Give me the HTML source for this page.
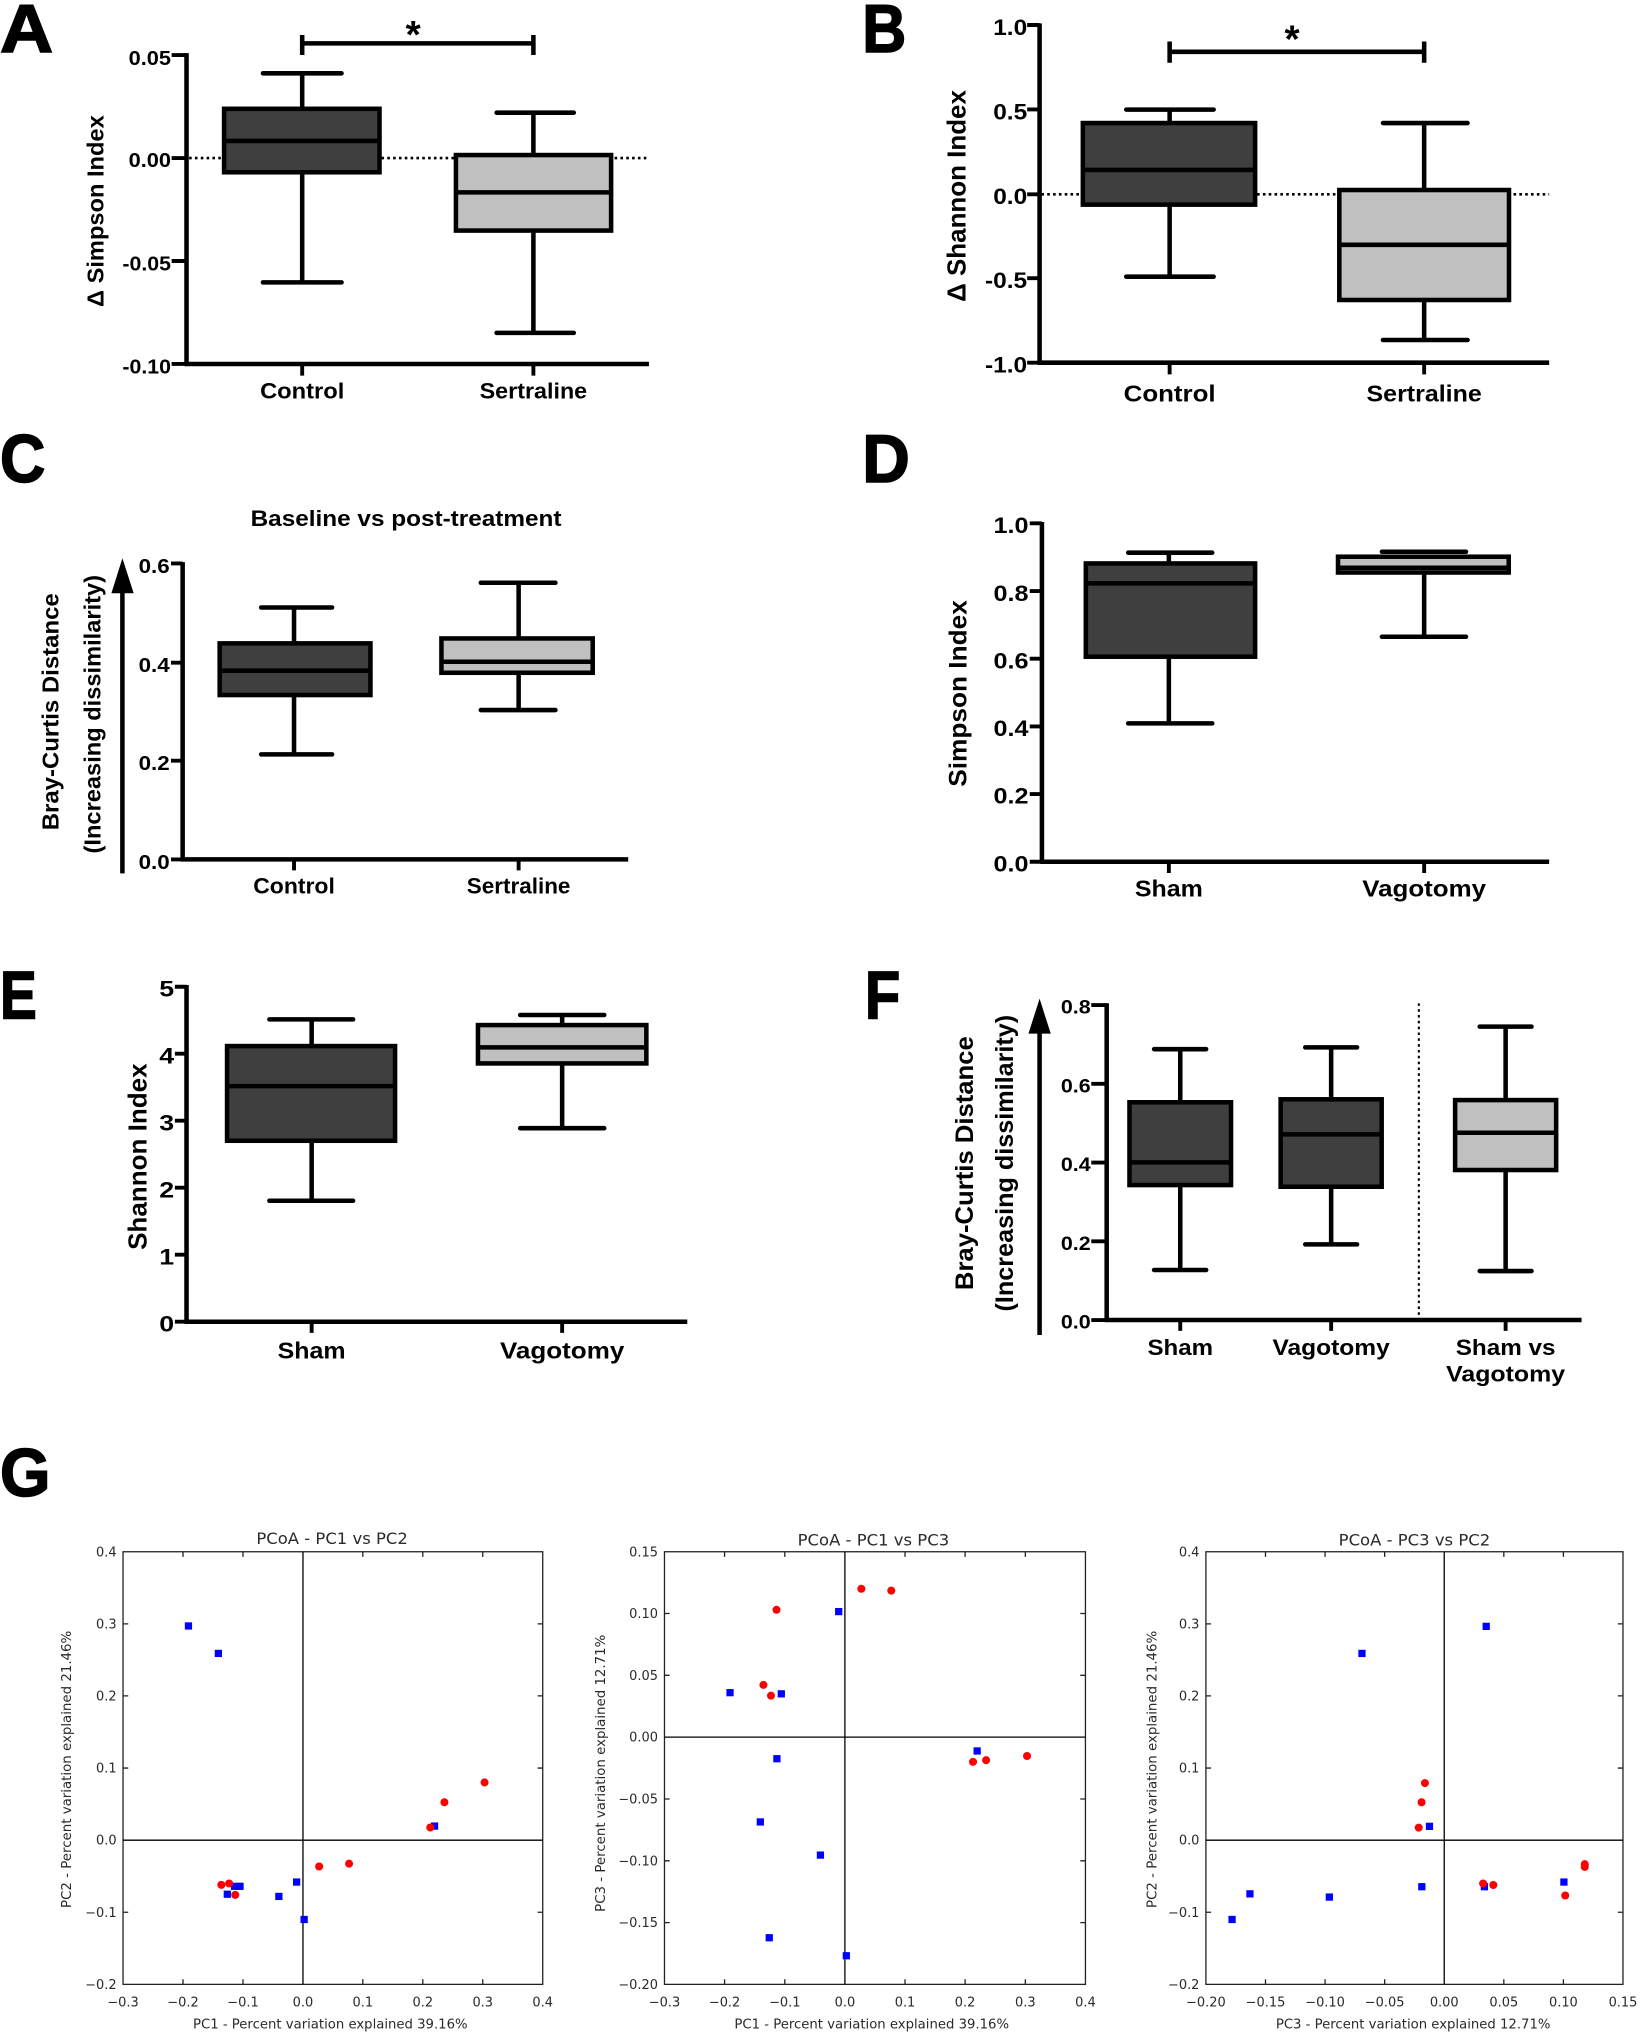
<!DOCTYPE html>
<html><head><meta charset="utf-8"><style>
html,body{margin:0;padding:0;background:#fff}
svg{display:block}
.b{font-family:"Liberation Sans",Arial,sans-serif;font-weight:bold;fill:#000}
.m{font-family:"DejaVu Sans","Liberation Sans",sans-serif;fill:#2a2a2a}
</style></head><body>
<svg xmlns="http://www.w3.org/2000/svg" width="1645" height="2032" viewBox="0 0 1270 1568.77" preserveAspectRatio="none">
<rect width="1270" height="1569" fill="#fff"/>
<!-- ============ PANEL A ============ -->
<g stroke="#000" fill="none">
<text class="b" x="0" y="40" font-size="52" textLength="41" lengthAdjust="spacingAndGlyphs" stroke="#000" stroke-width="1.2">A</text>
<path d="M144,41V281M142.5,281H501" stroke-width="3.5"/>
<path d="M132.5,42.5H144M132.5,122H144M132.5,201.5H144M132.5,281H144M233.3,281V290M411.8,281V290" stroke-width="3"/>
<path d="M146,122H501" stroke-width="2" stroke-dasharray="2,2.5"/>
<rect x="173" y="84" width="120" height="49" fill="#3f3f3f" stroke-width="3.5"/>
<path d="M173,108.8H293M233.3,56.6V84M233.3,133V218" stroke-width="3.5"/>
<path d="M203,56.6H263.7M203,218H263.7" stroke-width="3.5" stroke-linecap="round"/>
<rect x="352" y="119.7" width="119.8" height="58.3" fill="#c0c0c0" stroke-width="3.5"/>
<path d="M352,148.5H471.8M411.8,87V119.7M411.8,178V257" stroke-width="3.5"/>
<path d="M383.4,87H443M383.4,257H443" stroke-width="3.5" stroke-linecap="round"/>
<path d="M233.3,33.5H411.8M233.3,27V42.5M411.8,27V42.5" stroke-width="3.5"/>
</g>
<text class="b" x="319" y="37" font-size="30" text-anchor="middle">*</text>
<g class="b" font-size="16" text-anchor="end">
<text x="132" y="50" textLength="32.7" lengthAdjust="spacingAndGlyphs">0.05</text>
<text x="132" y="129" textLength="32.7" lengthAdjust="spacingAndGlyphs">0.00</text>
<text x="132" y="208.8" textLength="37.5" lengthAdjust="spacingAndGlyphs">-0.05</text>
<text x="132" y="288.3" textLength="37.5" lengthAdjust="spacingAndGlyphs">-0.10</text>
</g>
<g class="b" font-size="17" text-anchor="middle">
<text x="233.3" y="307.5" textLength="65" lengthAdjust="spacingAndGlyphs">Control</text>
<text x="411.8" y="307.5" textLength="83" lengthAdjust="spacingAndGlyphs">Sertraline</text>
<text transform="translate(80,163) rotate(-90)" font-size="18" textLength="148" lengthAdjust="spacingAndGlyphs">Δ Simpson Index</text>
</g>
<!-- ============ PANEL B ============ -->
<g stroke="#000" fill="none">
<text class="b" x="665.7" y="40" font-size="52" textLength="34" lengthAdjust="spacingAndGlyphs" stroke="#000" stroke-width="1.2">B</text>
<path d="M802.6,18V280M801,280H1196" stroke-width="3.5"/>
<path d="M793,19.3H802.6M793,84.5H802.6M793,150H802.6M793,214.8H802.6M793,280H802.6M903,280V289M1099.5,280V289" stroke-width="3"/>
<path d="M804,150H1196" stroke-width="2" stroke-dasharray="2,2.5"/>
<rect x="836" y="95" width="133" height="63" fill="#3f3f3f" stroke-width="3.5"/>
<path d="M836,131.2H969M903,84.6V95M903,158V213.6" stroke-width="3.5"/>
<path d="M869.5,84.6H937M869.5,213.6H937" stroke-width="3.5" stroke-linecap="round"/>
<rect x="1034" y="146.7" width="131" height="84.9" fill="#c0c0c0" stroke-width="3.5"/>
<path d="M1034,189H1165M1099.5,95V146.7M1099.5,231.6V262.5" stroke-width="3.5"/>
<path d="M1067.7,95H1133M1067.7,262.5H1133" stroke-width="3.5" stroke-linecap="round"/>
<path d="M903,40H1099.5M903,32V48.4M1099.5,32V48.4" stroke-width="3.5"/>
</g>
<text class="b" x="997.5" y="40.5" font-size="30" text-anchor="middle">*</text>
<g class="b" font-size="17" text-anchor="end">
<text x="793" y="27" textLength="26.2" lengthAdjust="spacingAndGlyphs">1.0</text>
<text x="793" y="92.1" textLength="26.2" lengthAdjust="spacingAndGlyphs">0.5</text>
<text x="793" y="157.6" textLength="26.2" lengthAdjust="spacingAndGlyphs">0.0</text>
<text x="793" y="222.4" textLength="32.5" lengthAdjust="spacingAndGlyphs">-0.5</text>
<text x="793" y="287.6" textLength="32.5" lengthAdjust="spacingAndGlyphs">-1.0</text>
</g>
<g class="b" font-size="18" text-anchor="middle">
<text x="903" y="310" textLength="71" lengthAdjust="spacingAndGlyphs">Control</text>
<text x="1099.5" y="310" textLength="89" lengthAdjust="spacingAndGlyphs">Sertraline</text>
<text transform="translate(745.5,151.3) rotate(-90)" font-size="20" textLength="163.5" lengthAdjust="spacingAndGlyphs">Δ Shannon Index</text>
</g>
<!-- ============ PANEL C ============ -->
<g stroke="#000" fill="none">
<text class="b" x="0" y="372" font-size="52" textLength="35" lengthAdjust="spacingAndGlyphs" stroke="#000" stroke-width="1.2">C</text>
<path d="M141,434V663.5M139.5,663.5H485" stroke-width="3.5"/>
<path d="M132,435H141M132,511.6H141M132,587.3H141M132,663.5H141M227,663.5V672M400.4,663.5V672" stroke-width="3"/>
<rect x="169.6" y="496.7" width="116.4" height="39.9" fill="#3f3f3f" stroke-width="3.5"/>
<path d="M169.6,517.8H286M227,469V496.7M227,536.6V582.4" stroke-width="3.5"/>
<path d="M201.6,469H256.4M201.6,582.4H256.4" stroke-width="3.5" stroke-linecap="round"/>
<rect x="340.8" y="492.9" width="116.8" height="26.5" fill="#c0c0c0" stroke-width="3.5"/>
<path d="M340.8,510.9H457.6M400.4,449.9V492.9M400.4,519.4V548.2" stroke-width="3.5"/>
<path d="M371.2,449.9H428.8M371.2,548.2H428.8" stroke-width="3.5" stroke-linecap="round"/>
<path d="M94.5,674.3V452" stroke-width="3.5"/>
</g>
<polygon points="94.5,431 86,458 103.2,458" fill="#000"/>
<g class="b" text-anchor="middle">
<text x="313.5" y="406" font-size="17" textLength="240" lengthAdjust="spacingAndGlyphs">Baseline vs post-treatment</text>
<text x="227" y="690" font-size="17" textLength="63" lengthAdjust="spacingAndGlyphs">Control</text>
<text x="400.4" y="690" font-size="17" textLength="80" lengthAdjust="spacingAndGlyphs">Sertraline</text>
<text transform="translate(45,549.5) rotate(-90)" font-size="18" textLength="183" lengthAdjust="spacingAndGlyphs">Bray-Curtis Distance</text>
<text transform="translate(77.5,551.4) rotate(-90)" font-size="18" textLength="215" lengthAdjust="spacingAndGlyphs">(Increasing dissimilarity)</text>
</g>
<g class="b" font-size="16" text-anchor="end">
<text x="131" y="442.3" textLength="24" lengthAdjust="spacingAndGlyphs">0.6</text>
<text x="131" y="518.9" textLength="24" lengthAdjust="spacingAndGlyphs">0.4</text>
<text x="131" y="594.6" textLength="24" lengthAdjust="spacingAndGlyphs">0.2</text>
<text x="131" y="670.8" textLength="24" lengthAdjust="spacingAndGlyphs">0.0</text>
</g>
<!-- ============ PANEL D ============ -->
<g stroke="#000" fill="none">
<text class="b" x="665.7" y="372" font-size="52" textLength="36.7" lengthAdjust="spacingAndGlyphs" stroke="#000" stroke-width="1.2">D</text>
<path d="M804.4,403V665.3M803,665.3H1196" stroke-width="3.5"/>
<path d="M795,404H804.4M795,456.3H804.4M795,508.5H804.4M795,560.8H804.4M795,613H804.4M795,665.3H804.4M902.4,665.3V674M1099.5,665.3V674" stroke-width="3"/>
<rect x="838.3" y="435" width="130.7" height="72" fill="#3f3f3f" stroke-width="3.5"/>
<path d="M838.3,450.4H969M902.4,426.7V435M902.4,507V558.5" stroke-width="3.5"/>
<path d="M871,426.7H935.9M871,558.5H935.9" stroke-width="3.5" stroke-linecap="round"/>
<rect x="1033" y="429.8" width="131.8" height="12.2" fill="#c0c0c0" stroke-width="3.5"/>
<path d="M1033,438.3H1164.8M1099.5,442V491.6" stroke-width="3.5"/>
<path d="M1066.9,426H1131.8M1066.9,491.6H1131.8" stroke-width="3.5" stroke-linecap="round"/>
</g>
<g class="b" font-size="17" text-anchor="end">
<text x="794" y="411.5" textLength="27" lengthAdjust="spacingAndGlyphs">1.0</text>
<text x="794" y="463.8" textLength="27" lengthAdjust="spacingAndGlyphs">0.8</text>
<text x="794" y="516" textLength="27" lengthAdjust="spacingAndGlyphs">0.6</text>
<text x="794" y="568.3" textLength="27" lengthAdjust="spacingAndGlyphs">0.4</text>
<text x="794" y="620.5" textLength="27" lengthAdjust="spacingAndGlyphs">0.2</text>
<text x="794" y="672.8" textLength="27" lengthAdjust="spacingAndGlyphs">0.0</text>
</g>
<g class="b" font-size="18" text-anchor="middle">
<text x="902.4" y="692" textLength="52.5" lengthAdjust="spacingAndGlyphs">Sham</text>
<text x="1099.5" y="692" textLength="95.5" lengthAdjust="spacingAndGlyphs">Vagotomy</text>
<text transform="translate(746,535.4) rotate(-90)" font-size="19" textLength="144" lengthAdjust="spacingAndGlyphs">Simpson Index</text>
</g>
<!-- ============ PANEL E ============ -->
<g stroke="#000" fill="none">
<text class="b" x="0" y="786.2" font-size="52" textLength="28.4" lengthAdjust="spacingAndGlyphs" stroke="#000" stroke-width="1.2">E</text>
<path d="M144,760.5V1020.4M142.5,1020.4H530.6" stroke-width="3.5"/>
<path d="M135,761.8H144M135,813.5H144M135,865.2H144M135,916.9H144M135,968.7H144M135,1020.4H144M240.6,1020.4V1029M434,1020.4V1029" stroke-width="3"/>
<rect x="175.3" y="807.6" width="129.7" height="73.1" fill="#3f3f3f" stroke-width="3.5"/>
<path d="M175.3,838.5H305M240.6,787V807.6M240.6,880.7V927" stroke-width="3.5"/>
<path d="M208,787H272.6M208,927H272.6" stroke-width="3.5" stroke-linecap="round"/>
<rect x="369" y="791.4" width="130" height="29.6" fill="#c0c0c0" stroke-width="3.5"/>
<path d="M369,808.6H499M434,783.6V791.4M434,821V871" stroke-width="3.5"/>
<path d="M401.6,783.6H466.5M401.6,871H466.5" stroke-width="3.5" stroke-linecap="round"/>
</g>
<g class="b" font-size="17" text-anchor="end">
<text x="134.5" y="769.3" textLength="11.5" lengthAdjust="spacingAndGlyphs">5</text>
<text x="134.5" y="821" textLength="11.5" lengthAdjust="spacingAndGlyphs">4</text>
<text x="134.5" y="872.7" textLength="11.5" lengthAdjust="spacingAndGlyphs">3</text>
<text x="134.5" y="924.4" textLength="11.5" lengthAdjust="spacingAndGlyphs">2</text>
<text x="134.5" y="976.2" textLength="11.5" lengthAdjust="spacingAndGlyphs">1</text>
<text x="134.5" y="1027.9" textLength="11.5" lengthAdjust="spacingAndGlyphs">0</text>
</g>
<g class="b" font-size="18" text-anchor="middle">
<text x="240.6" y="1048.7" textLength="52.5" lengthAdjust="spacingAndGlyphs">Sham</text>
<text x="434" y="1048.7" textLength="96" lengthAdjust="spacingAndGlyphs">Vagotomy</text>
<text transform="translate(113,893) rotate(-90)" font-size="20" textLength="144" lengthAdjust="spacingAndGlyphs">Shannon Index</text>
</g>
<!-- ============ PANEL F ============ -->
<g stroke="#000" fill="none">
<text class="b" x="667.7" y="786.2" font-size="52" textLength="27.3" lengthAdjust="spacingAndGlyphs" stroke="#000" stroke-width="1.2">F</text>
<path d="M854.4,774.5V1019.1M853,1019.1H1221" stroke-width="3.5"/>
<path d="M842.5,775.9H854.4M842.5,836.7H854.4M842.5,897.5H854.4M842.5,958.3H854.4M842.5,1019.1H854.4M911.2,1019.1V1027.5M1027.7,1019.1V1027.5M1162.4,1019.1V1027.5" stroke-width="3"/>
<path d="M1095.4,774.6V1019" stroke-width="1.6" stroke-dasharray="2,2.5"/>
<rect x="872" y="851" width="78.4" height="63.9" fill="#3f3f3f" stroke-width="3.5"/>
<path d="M872,897.4H950.4M911.2,810V851M911.2,914.9V980.5" stroke-width="3.5"/>
<path d="M891,810H931.2M891,980.5H931.2" stroke-width="3.5" stroke-linecap="round"/>
<rect x="988.7" y="848.7" width="78" height="67.5" fill="#3f3f3f" stroke-width="3.5"/>
<path d="M988.7,875.8H1066.7M1027.7,808.6V848.7M1027.7,916.2V960.7" stroke-width="3.5"/>
<path d="M1007.7,808.6H1047.7M1007.7,960.7H1047.7" stroke-width="3.5" stroke-linecap="round"/>
<rect x="1123.4" y="849.3" width="78" height="54" fill="#c0c0c0" stroke-width="3.5"/>
<path d="M1123.4,874.5H1201.4M1162.4,792.6V849.3M1162.4,903.3V981.3" stroke-width="3.5"/>
<path d="M1142.4,792.6H1182.4M1142.4,981.3H1182.4" stroke-width="3.5" stroke-linecap="round"/>
<path d="M802.6,1030.7V795" stroke-width="3.5"/>
</g>
<polygon points="802.6,771 794,798 811.2,798" fill="#000"/>
<g class="b" font-size="15" text-anchor="end">
<text x="842" y="782.6" textLength="23" lengthAdjust="spacingAndGlyphs">0.8</text>
<text x="842" y="843.4" textLength="23" lengthAdjust="spacingAndGlyphs">0.6</text>
<text x="842" y="904.2" textLength="23" lengthAdjust="spacingAndGlyphs">0.4</text>
<text x="842" y="965" textLength="23" lengthAdjust="spacingAndGlyphs">0.2</text>
<text x="842" y="1025.8" textLength="23" lengthAdjust="spacingAndGlyphs">0.0</text>
</g>
<g class="b" font-size="17" text-anchor="middle">
<text x="911.2" y="1046" textLength="50.6" lengthAdjust="spacingAndGlyphs">Sham</text>
<text x="1027.7" y="1046" textLength="90.5" lengthAdjust="spacingAndGlyphs">Vagotomy</text>
<text x="1162.4" y="1046" textLength="77" lengthAdjust="spacingAndGlyphs">Sham vs</text>
<text x="1162.4" y="1066.7" textLength="91.8" lengthAdjust="spacingAndGlyphs">Vagotomy</text>
<text transform="translate(751,898) rotate(-90)" font-size="19" textLength="196" lengthAdjust="spacingAndGlyphs">Bray-Curtis Distance</text>
<text transform="translate(782,898) rotate(-90)" font-size="19" textLength="229" lengthAdjust="spacingAndGlyphs">(Increasing dissimilarity)</text>
</g>
<!-- ============ PANEL G ============ -->
<text class="b" x="0" y="1155" font-size="52" textLength="39" lengthAdjust="spacingAndGlyphs" stroke="#000" stroke-width="1.2">G</text>

<!-- Plot 1 -->
<g fill="none" stroke="#222" stroke-width="1">
<rect x="95" y="1198" width="324" height="334"/>
<path d="M233.9,1198V1532M95,1420.7H419" stroke="#000"/>
<path d="M141.3,1198v4M187.6,1198v4M280.1,1198v4M326.4,1198v4M372.7,1198v4M141.3,1532v-4M187.6,1532v-4M280.1,1532v-4M326.4,1532v-4M372.7,1532v-4M95,1476.3h4M95,1365h4M95,1309.3h4M95,1253.7h4M419,1476.3h-4M419,1365h-4M419,1309.3h-4M419,1253.7h-4"/>
</g>
<g class="m" font-size="10" text-anchor="middle">
<text x="95" y="1549">−0.3</text><text x="141.3" y="1549">−0.2</text><text x="187.6" y="1549">−0.1</text><text x="233.9" y="1549">0.0</text><text x="280.1" y="1549">0.1</text><text x="326.4" y="1549">0.2</text><text x="372.7" y="1549">0.3</text><text x="419" y="1549">0.4</text>
</g>
<g class="m" font-size="10" text-anchor="end">
<text x="90" y="1535.5">−0.2</text><text x="90" y="1479.8">−0.1</text><text x="90" y="1424.2">0.0</text><text x="90" y="1368.5">0.1</text><text x="90" y="1312.8">0.2</text><text x="90" y="1257.2">0.3</text><text x="90" y="1201.5">0.4</text>
</g>
<g class="m" text-anchor="middle">
<text x="256.4" y="1192" font-size="12.5" textLength="117" lengthAdjust="spacingAndGlyphs">PCoA - PC1 vs PC2</text>
<text x="255" y="1566" font-size="10.5" textLength="212" lengthAdjust="spacingAndGlyphs">PC1 - Percent variation explained 39.16%</text>
<text transform="translate(55,1366) rotate(-90)" font-size="10.5" textLength="214" lengthAdjust="spacingAndGlyphs">PC2 - Percent variation explained 21.46%</text>
</g>
<g fill="#0000ff">
<rect x="142.7" y="1252.5" width="5.6" height="5.6"/>
<rect x="165.8" y="1273.7" width="5.6" height="5.6"/>
<rect x="332.7" y="1407" width="5.6" height="5.6"/>
<rect x="172.7" y="1459.6" width="5.6" height="5.6"/>
<rect x="178.3" y="1453.5" width="5.6" height="5.6"/>
<rect x="182.5" y="1453.5" width="5.6" height="5.6"/>
<rect x="212.5" y="1461.3" width="5.6" height="5.6"/>
<rect x="226.2" y="1450.2" width="5.6" height="5.6"/>
<rect x="232" y="1479.1" width="5.6" height="5.6"/>
</g>
<g fill="#ff0000">
<circle cx="374.1" cy="1376.1" r="3.1"/>
<circle cx="343.1" cy="1391.4" r="3.1"/>
<circle cx="332.2" cy="1410.9" r="3.1"/>
<circle cx="269.5" cy="1438.8" r="3.1"/>
<circle cx="246.4" cy="1441" r="3.1"/>
<circle cx="170.9" cy="1455.2" r="3.1"/>
<circle cx="176.9" cy="1454.1" r="3.1"/>
<circle cx="181.6" cy="1462.9" r="3.1"/>
</g>

<!-- Plot 2 -->
<g fill="none" stroke="#222" stroke-width="1">
<rect x="513" y="1198" width="325" height="334"/>
<path d="M652.3,1198V1532M513,1341.1H838" stroke="#000"/>
<path d="M559.4,1198v4M605.9,1198v4M698.7,1198v4M745.1,1198v4M791.6,1198v4M559.4,1532v-4M605.9,1532v-4M698.7,1532v-4M745.1,1532v-4M791.6,1532v-4M513,1484.3h4M513,1436.6h4M513,1388.9h4M513,1293.4h4M513,1245.7h4M838,1484.3h-4M838,1436.6h-4M838,1388.9h-4M838,1293.4h-4M838,1245.7h-4"/>
</g>
<g class="m" font-size="10" text-anchor="middle">
<text x="513" y="1549">−0.3</text><text x="559.4" y="1549">−0.2</text><text x="605.9" y="1549">−0.1</text><text x="652.3" y="1549">0.0</text><text x="698.7" y="1549">0.1</text><text x="745.1" y="1549">0.2</text><text x="791.6" y="1549">0.3</text><text x="838" y="1549">0.4</text>
</g>
<g class="m" font-size="10" text-anchor="end">
<text x="508" y="1535.5">−0.20</text><text x="508" y="1487.8">−0.15</text><text x="508" y="1440.1">−0.10</text><text x="508" y="1392.4">−0.05</text><text x="508" y="1344.6">0.00</text><text x="508" y="1296.9">0.05</text><text x="508" y="1249.2">0.10</text><text x="508" y="1201.5">0.15</text>
</g>
<g class="m" text-anchor="middle">
<text x="674.3" y="1193" font-size="12.5" textLength="117" lengthAdjust="spacingAndGlyphs">PCoA - PC1 vs PC3</text>
<text x="673" y="1566" font-size="10.5" textLength="212" lengthAdjust="spacingAndGlyphs">PC1 - Percent variation explained 39.16%</text>
<text transform="translate(467,1369) rotate(-90)" font-size="10.5" textLength="214" lengthAdjust="spacingAndGlyphs">PC3 - Percent variation explained 12.71%</text>
</g>
<g fill="#0000ff">
<rect x="560.8" y="1304" width="5.6" height="5.6"/>
<rect x="600.4" y="1304.9" width="5.6" height="5.6"/>
<rect x="644.7" y="1241.4" width="5.6" height="5.6"/>
<rect x="597" y="1355" width="5.6" height="5.6"/>
<rect x="584.2" y="1403.8" width="5.6" height="5.6"/>
<rect x="630.6" y="1429.4" width="5.6" height="5.6"/>
<rect x="591.1" y="1493.2" width="5.6" height="5.6"/>
<rect x="650.6" y="1507.1" width="5.6" height="5.6"/>
<rect x="751.6" y="1349" width="5.6" height="5.6"/>
</g>
<g fill="#ff0000">
<circle cx="599.5" cy="1242.8" r="3.1"/>
<circle cx="665" cy="1226.6" r="3.1"/>
<circle cx="688.1" cy="1228" r="3.1"/>
<circle cx="589.4" cy="1300.8" r="3.1"/>
<circle cx="595.2" cy="1309.1" r="3.1"/>
<circle cx="751.2" cy="1360.2" r="3.1"/>
<circle cx="761.3" cy="1358.9" r="3.1"/>
<circle cx="792.9" cy="1355.7" r="3.1"/>
</g>

<!-- Plot 3 -->
<g fill="none" stroke="#222" stroke-width="1">
<rect x="931" y="1198" width="322" height="334"/>
<path d="M1115,1198V1532M931,1420.7H1253" stroke="#000"/>
<path d="M977,1198v4M1023,1198v4M1069,1198v4M1161,1198v4M1207,1198v4M977,1532v-4M1023,1532v-4M1069,1532v-4M1161,1532v-4M1207,1532v-4M931,1476.3h4M931,1365h4M931,1309.3h4M931,1253.7h4M1253,1476.3h-4M1253,1365h-4M1253,1309.3h-4M1253,1253.7h-4"/>
</g>
<g class="m" font-size="10" text-anchor="middle">
<text x="931" y="1549">−0.20</text><text x="977" y="1549">−0.15</text><text x="1023" y="1549">−0.10</text><text x="1069" y="1549">−0.05</text><text x="1115" y="1549">0.00</text><text x="1161" y="1549">0.05</text><text x="1207" y="1549">0.10</text><text x="1253" y="1549">0.15</text>
</g>
<g class="m" font-size="10" text-anchor="end">
<text x="926" y="1535.5">−0.2</text><text x="926" y="1479.8">−0.1</text><text x="926" y="1424.2">0.0</text><text x="926" y="1368.5">0.1</text><text x="926" y="1312.8">0.2</text><text x="926" y="1257.2">0.3</text><text x="926" y="1201.5">0.4</text>
</g>
<g class="m" text-anchor="middle">
<text x="1092" y="1193" font-size="12.5" textLength="117" lengthAdjust="spacingAndGlyphs">PCoA - PC3 vs PC2</text>
<text x="1091" y="1566" font-size="10.5" textLength="212" lengthAdjust="spacingAndGlyphs">PC3 - Percent variation explained 12.71%</text>
<text transform="translate(893,1366) rotate(-90)" font-size="10.5" textLength="214" lengthAdjust="spacingAndGlyphs">PC2 - Percent variation explained 21.46%</text>
</g>
<g fill="#0000ff">
<rect x="1144.6" y="1252.8" width="5.6" height="5.6"/>
<rect x="1048.7" y="1273.7" width="5.6" height="5.6"/>
<rect x="1100.8" y="1407.2" width="5.6" height="5.6"/>
<rect x="1094.9" y="1453.8" width="5.6" height="5.6"/>
<rect x="1143.2" y="1453.8" width="5.6" height="5.6"/>
<rect x="1204.6" y="1450.2" width="5.6" height="5.6"/>
<rect x="962.2" y="1459.3" width="5.6" height="5.6"/>
<rect x="1023.5" y="1461.8" width="5.6" height="5.6"/>
<rect x="948.4" y="1479.1" width="5.6" height="5.6"/>
</g>
<g fill="#ff0000">
<circle cx="1100.1" cy="1376.6" r="3.1"/>
<circle cx="1097.5" cy="1391.4" r="3.1"/>
<circle cx="1095.3" cy="1411" r="3.1"/>
<circle cx="1145" cy="1454.1" r="3.1"/>
<circle cx="1152.9" cy="1455.3" r="3.1"/>
<circle cx="1208.4" cy="1463.4" r="3.1"/>
<circle cx="1223.5" cy="1439.2" r="3.1"/>
<circle cx="1223.5" cy="1441.3" r="3.1"/>
</g>
</svg>
</body></html>
